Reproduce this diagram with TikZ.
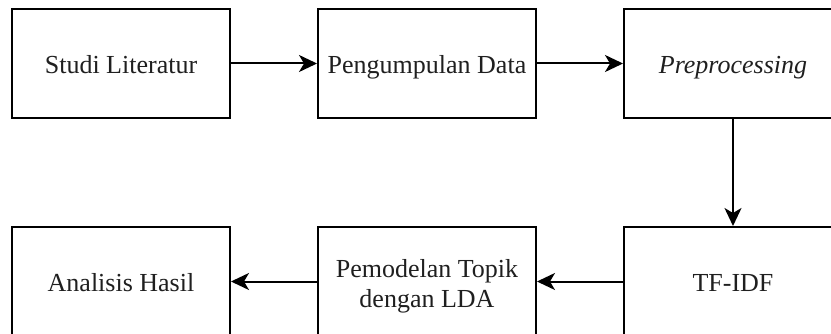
\documentclass[tikz,border=0pt]{standalone}
\usepackage{fontspec}
\setmainfont{Liberation Serif}
\usetikzlibrary{positioning, arrows.meta}

\begin{document}
\begin{tikzpicture}[
  x=1pt, y=1pt,
  boxbase/.style={draw, line width=2pt, minimum width=218pt, minimum height=109pt,
                  align=center, inner sep=0pt, text=black!88,
                  font=\fontsize{26}{30}\selectfont},
  stepbox/.style={boxbase, text height=20pt, text depth=0pt},
  arr/.style={-{Stealth[length=18pt, width=17pt, inset=5pt]}, line width=2pt},
]

% Page frame
\useasboundingbox (0,0) rectangle (831,-334);
\clip (0,0) rectangle (831,-334);

% Top row
\node[stepbox] (studi) at (121,-63.5) {Studi Literatur};
\node[stepbox, right=86pt of studi] (kumpul) {Pengumpulan Data};
\node[stepbox, right=86pt of kumpul] (prepro) {\textit{Preprocessing}};

% Bottom row
\node[stepbox, below=107pt of prepro] (tfidf) {TF-IDF};
\node[boxbase, text height=52pt, text depth=0pt, left=86pt of tfidf] (lda) {Pemodelan Topik\\dengan LDA};
\node[stepbox, left=86pt of lda] (hasil) {Analisis Hasil};

% Arrows
\draw[arr] (studi) -- (kumpul);
\draw[arr] (kumpul) -- (prepro);
\draw[arr] (prepro) -- (tfidf);
\draw[arr] (tfidf) -- (lda);
\draw[arr] (lda) -- (hasil);

\end{tikzpicture}
\end{document}
